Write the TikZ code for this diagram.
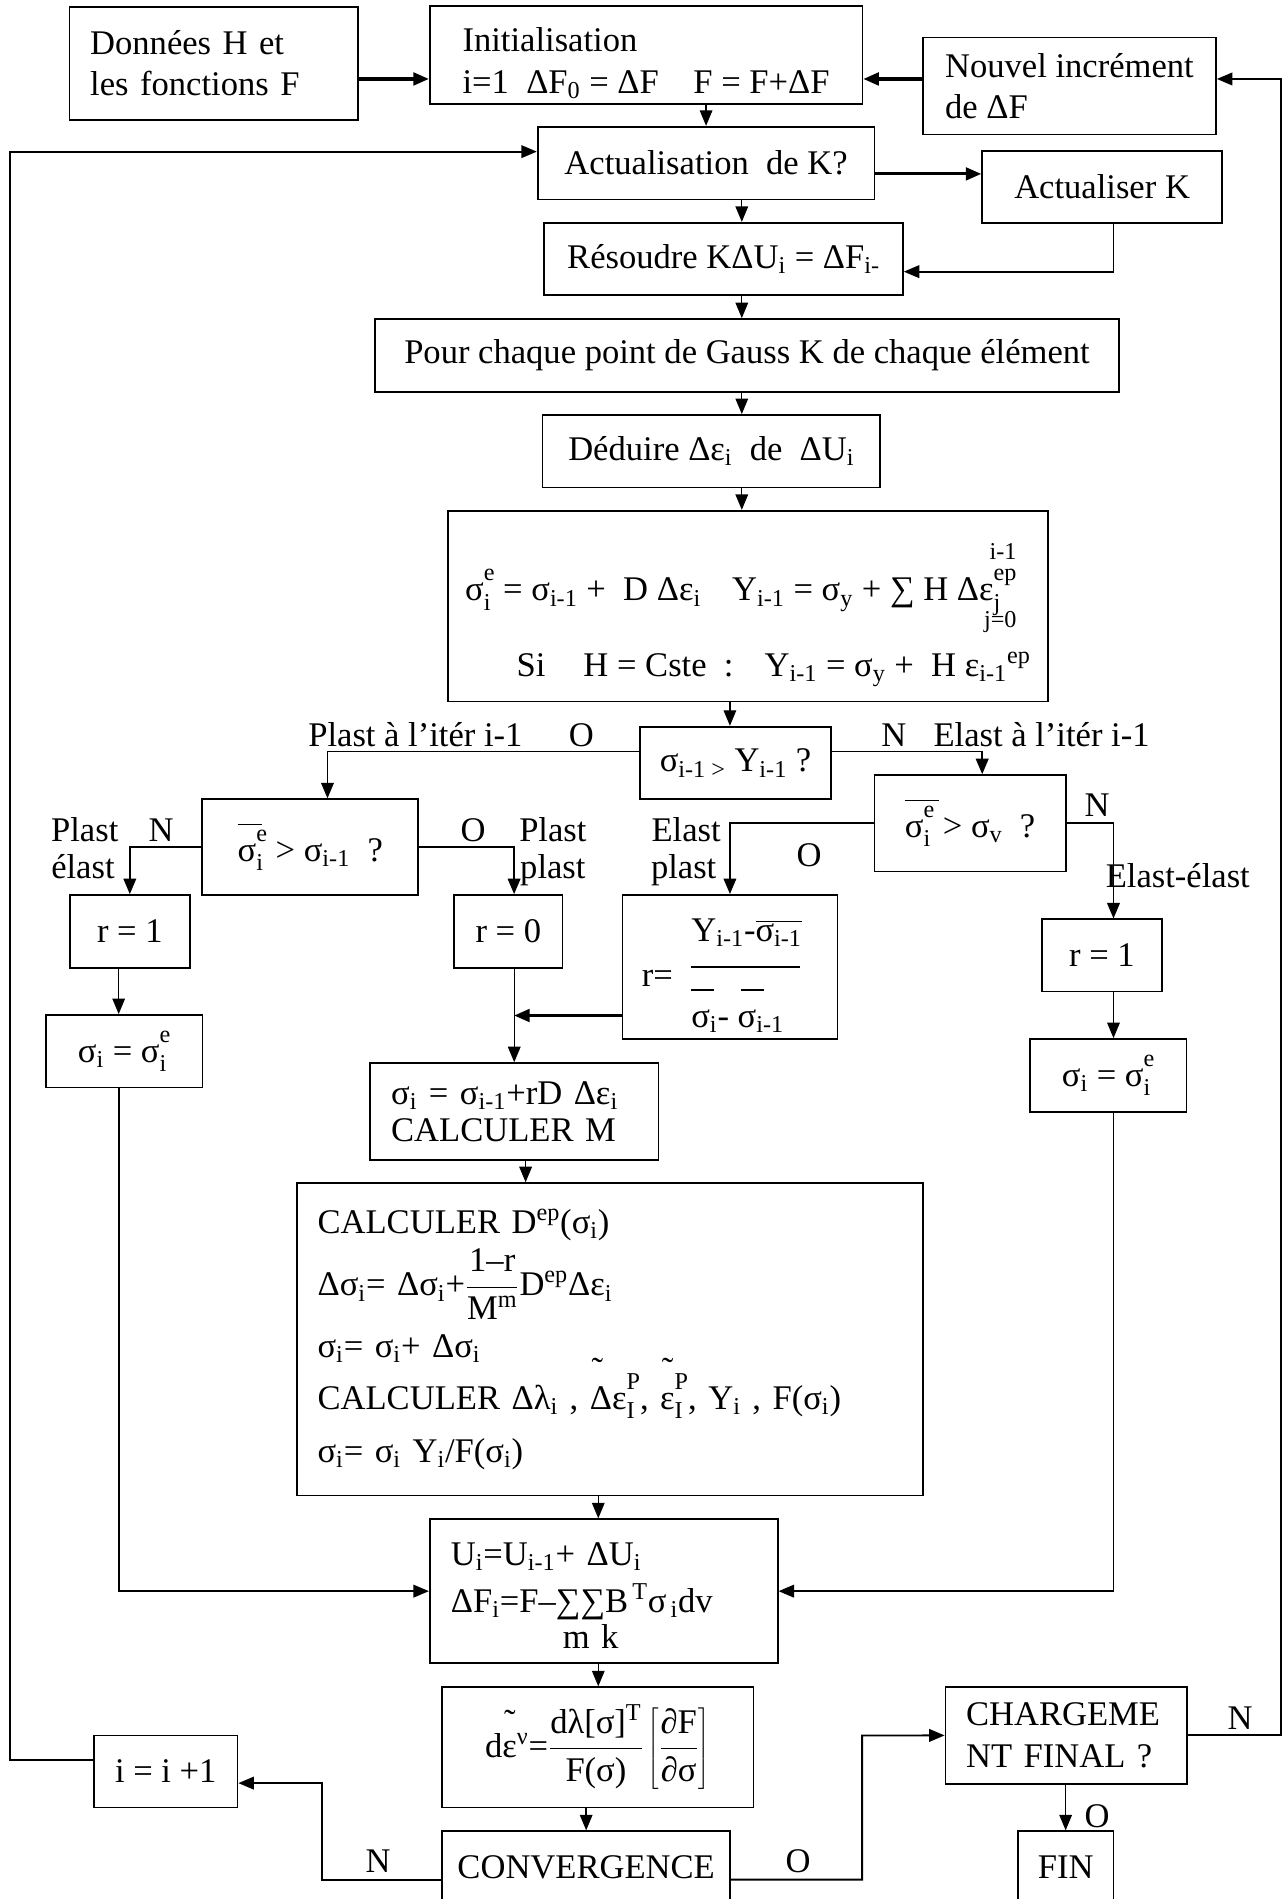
\documentclass[tikz,border=0pt]{standalone}
\usepackage{fontspec}
\setmainfont{Liberation Serif}
\usetikzlibrary{arrows.meta}

\newcommand\fz{\fontsize{20.3}{24.4}\selectfont}
\newcommand\sm{\fontsize{14.2}{14.2}\selectfont}
\newcommand\lo[1]{\textsubscript{#1}}
\newcommand\hi[1]{\textsuperscript{#1}}
% super- and subscript stacked
\newcommand\ud[2]{\begingroup
  \setbox0=\hbox{\raisebox{0.58em}{\sm #1}}%
  \setbox2=\hbox{\raisebox{-0.28em}{\sm #2}}%
  \ifdim\wd0>\wd2 \rlap{\copy2}\copy0 \else \rlap{\copy0}\copy2 \fi
  \endgroup}
% sigma with a high bar
\newcommand\barsig[1]{\rlap{\raisebox{1.05em}{\rule{#1}{0.8pt}}}σ}
% raised small tilde over a letter
\newcommand\til[2]{\rlap{\smash{\raisebox{#1}{\kern0.05em ˜}}}#2}
\newcommand\fr[2]{$\displaystyle\frac{\hbox{#1}}{\hbox{#2}}$}

\begin{document}
\begin{tikzpicture}[x=0.025cm, y=-0.025cm,
    >={Triangle[length=3.2mm,width=2.6mm]},
    box/.style={draw, line width=1pt, font=\fz, inner sep=3pt, align=center},
    lbl/.style={font=\fz, anchor=base, inner sep=0pt},
    arr/.style={->, line width=0.8pt},
    barr/.style={->, line width=1.1pt},
    harr/.style={->, line width=1.8pt}]

\useasboundingbox (0,0) rectangle (1060,1568);

% top row
\node[box, minimum width=5.95cm, minimum height=2.34cm, text width=5.1cm, align=left] (donnees) at (176.5,52.3) {Données H et\\les fonctions F};
\node[box, minimum width=8.93cm, minimum height=2cm, align=left] (init) at (533.5,45.4) {\rule{0pt}{0.83cm}Initialisation\\i=1~ ΔF\lo{0} = ΔF\hspace{1em}F = F+ΔF};
\node[box, minimum width=6.05cm, minimum height=2cm, align=left] (nouvel) at (883,71) {Nouvel incrément\\de ΔF};

% stiffness and solve
\node[box, minimum width=6.95cm, minimum height=1.5cm] (actua) at (583,134.6) {Actualisation~ de K?};
\node[box, minimum width=4.95cm, minimum height=1.48cm] (actK) at (910,154.3) {Actualiser K};
\node[box, minimum width=7.4cm, minimum height=1.49cm] (resoudre) at (597.5,213.7) {Résoudre KΔU\lo{i} = ΔF\lo{i-}};
\node[box, minimum width=15.36cm, minimum height=1.5cm] (gauss) at (616.8,293.4) {Pour chaque point de Gauss K de chaque élément};
\node[box, minimum width=6.97cm, minimum height=1.5cm] (deduire) at (587.4,372.6) {Déduire Δε\lo{i}~ de~ ΔU\lo{i}};
\node[box, minimum width=12.39cm, minimum height=3.94cm, align=left] (trial) at (617.6,500.5)
  {\rule{0pt}{1.55cm}σ\ud{e}{i} = σ\lo{i-1} + ~D Δε\lo{i}\hspace{0.9em}Y\lo{i-1} = σ\lo{y} + ∑ H Δε\ud{ep}{j}\llap{\smash{\raisebox{1.2em}{\sm i-1}}}\llap{\smash{\raisebox{-0.78em}{\sm j=0}}}\\[0.7cm]
   \hspace*{1.06cm}Si\hspace{1.1em}H = Cste~ :\hspace{0.9em}Y\lo{i-1} = σ\lo{y} + ~H ε\lo{i-1}\hi{ep}};

% tests
\node[box, minimum width=3.94cm, minimum height=1.5cm] (test1) at (607.3,630) {σ\lo{i-1 >} Y\lo{i-1} ?};
\node[box, minimum width=4.46cm, minimum height=1.98cm] (testL) at (256.2,699.5) {\barsig{0.7em}\ud{e}{i} > σ\lo{i-1}~~?};
\node[box, minimum width=3.95cm, minimum height=1.99cm] (testR) at (801,679.8) {\barsig{1em}\ud{e}{i} > σ\lo{v}~~?};

% r values
\node[box, minimum width=2.48cm, minimum height=1.5cm] (r1L) at (107.2,769) {r = 1};
\node[box, minimum width=2.24cm, minimum height=1.5cm] (r0) at (419.7,769) {r = 0};
\node[box, minimum width=4.44cm, minimum height=2.98cm, inner sep=0pt, text height=1.89cm, text depth=1.09cm] (rfrac) at (602.7,798.5)
  {r=\hspace{0.38cm}\rlap{\raisebox{0.93cm}{Y\lo{i-1}-$\overline{\hbox{σ\lo{i-1}}}$}}\rlap{\raisebox{0.39cm}{\rule{2.24cm}{0.8pt}}}\rlap{\raisebox{-0.085cm}{\rule{0.475cm}{0.8pt}\hspace{0.55cm}\rule{0.475cm}{0.8pt}}}\raisebox{-0.85cm}{σ\lo{i}- σ\lo{i-1}}\hspace{0.7cm}};
\node[box, minimum width=2.47cm, minimum height=1.49cm] (r1R) at (909.9,788.9) {r = 1};
\node[box, minimum width=3.23cm, minimum height=1.5cm] (sigL) at (102.5,868) {σ\lo{i} = σ\ud{e}{i}};
\node[box, minimum width=3.23cm, minimum height=1.5cm] (sigR) at (915,887.9) {σ\lo{i} = σ\ud{e}{i}};
\node[box, minimum width=5.95cm, minimum height=2cm, text width=5.08cm, align=left] (update) at (424.6,917.8) {σ\lo{i} = σ\lo{i-1}+rD Δε\lo{i}\\[-0.1cm]CALCULER M};
\coordinate (join) at (424.5,838.5);

% plastic correction
\node[box, minimum width=12.91cm, minimum height=6.45cm, text width=12.07cm, align=left] (calc) at (503.7,1105.9)
  {CALCULER D\hi{ep}(σ\lo{i})\\[0.14cm]
   Δσ\lo{i}= Δσ\lo{i}+\fr{1–r}{M\hi{m}}D\hi{ep}Δε\lo{i}\\[0.26cm]
   σ\lo{i}= σ\lo{i}+ Δσ\lo{i}\\[0.22cm]
   CALCULER Δλ\lo{i} , \til{0.8em}{Δ}ε\ud{P}{I}, \til{0.8em}{ε}\ud{P}{I}, Y\lo{i} , F(σ\lo{i})\\[0.24cm]
   σ\lo{i}= σ\lo{i} Y\lo{i}/F(σ\lo{i})};
\node[box, minimum width=7.18cm, minimum height=2.97cm, text width=6.31cm, align=left] (uupd) at (498.5,1313.8)
  {\rule{0pt}{0.75cm}U\lo{i}=U\lo{i-1}+ ΔU\lo{i}\\[0.12cm]
   ΔF\lo{i}=F–∑∑B\hi{\,T}σ\lo{\,i}dv\\[-0.12cm]
   \phantom{ΔF\lo{i}=F–}\hspace{0.2em}m k};
\node[box, minimum width=6.43cm, minimum height=2.48cm] (deps) at (493.5,1442.7)
  {d\til{0.7em}{ε}\hi{ν}=\fr{dλ[σ]\hi{T}}{F(σ)}\hspace{0.1em}$\displaystyle\left[\frac{\hbox{∂F}}{\hbox{∂σ}}\right]$};

% bottom row
\node[box, minimum width=2.96cm, minimum height=1.48cm] (incr) at (136.9,1462.7) {i = i +1};
\node[box, minimum width=5.95cm, minimum height=1.5cm] (conv) at (484,1542) {CONVERGENCE};
\node[box, minimum width=4.99cm, minimum height=2cm, text width=4.14cm, align=left] (charge) at (880.5,1432.9) {CHARGEME\\NT FINAL ?};
\node[box, minimum width=1.98cm, minimum height=1.5cm] (fin) at (879.9,1542) {FIN};

% branch labels
\node[lbl] (lplastit) at (343,616) {Plast à l’itér i-1};
\node[lbl] (lo1) at (480,616) {O};
\node[lbl] (ln1) at (738,616) {N};
\node[lbl] (lelastit) at (860,616) {Elast à l’itér i-1};
\node[lbl] (lplast1) at (70,694.5) {Plast};
\node[lbl] (ln2) at (133,694.5) {N};
\node[lbl] (lelast1) at (68.5,725) {élast};
\node[lbl] (lo2) at (390.7,694.5) {O};
\node[lbl] (lplast2) at (456.5,694.5) {Plast};
\node[lbl] (lplast3) at (456.5,725) {plast};
\node[lbl] (lelast2) at (566.5,694.5) {Elast};
\node[lbl] (lplast4) at (564.5,725) {plast};
\node[lbl] (lo3) at (668,715.5) {O};
\node[lbl] (ln3) at (905.8,674) {N};
\node[lbl] (lelel) at (972.5,733) {Elast-élast};
\node[lbl] (ln4) at (312.3,1546.5) {N};
\node[lbl] (lo4) at (659,1546.5) {O};
\node[lbl] (ln5) at (1024,1428) {N};
\node[lbl] (lo5) at (905.8,1509) {O};

% connectors
\draw[harr] (donnees.east |- 0,65.2) -- (init.west |- 0,65.2);
\draw[harr] (nouvel.west |- 0,65.2) -- (init.east |- 0,65.2);
\draw[barr] (charge.east) -| (1058,65.2) -- (nouvel.east |- 0,65.2);
\draw[arr] (init.south -| actua.north) -- (actua.north);
\draw[barr] (incr.west |- 0,1453) -| (8.1,125.2) -- (actua.west |- 0,125.2);
\draw[harr] (actua.east |- 0,143.6) -- (actK.west |- 0,143.6);
\draw[arr] (actua.south -| 612.5,0) -- (resoudre.north -| 612.5,0);
\draw[barr] (actK.south -| 919.4,0) |- (resoudre.east |- 0,224.3);
\draw[arr] (resoudre.south -| 612.5,0) -- (gauss.north -| 612.5,0);
\draw[arr] (gauss.south -| 612.5,0) -- (deduire.north -| 612.5,0);
\draw[arr] (deduire.south -| 612.5,0) -- (trial.north -| 612.5,0);
\draw[arr] (trial.south -| 602.7,0) -- (test1.north -| 602.7,0);
\draw[barr] (test1.west |- 0,620.5) -| (testL.north -| 270.4,0);
\draw[barr] (test1.east |- 0,620.5) -| (testR.north -| 811,0);
\draw[barr] (testL.west) -| (r1L.north);
\draw[barr] (testL.east) -| (r0.north -| 424.5,0);
\draw[barr] (testR.west) -| (rfrac.north);
\draw[barr] (testR.east) -| (r1R.north -| 919.4,0);
\draw[arr] (r1L.south -| 98,0) -- (sigL.north -| 98,0);
\draw[arr] (r0.south -| update.north) -- (update.north);
\draw[harr] (rfrac.west |- join) -- (join);
\draw[arr] (r1R.south -| 919.4,0) -- (sigR.north -| 919.4,0);
\draw[barr] (sigL.south -| 98,0) |- (uupd.west);
\draw[barr] (sigR.south -| 919.4,0) |- (uupd.east);
\draw[arr] (update.south -| 434,0) -- (calc.north -| 434,0);
\draw[arr] (calc.south -| 494,0) -- (uupd.north -| 494,0);
\draw[arr] (uupd.south -| 494,0) -- (deps.north -| 494,0);
\draw[arr] (deps.south -| conv.north) -- (conv.north);
\draw[barr] (conv.west |- 0,1552) -| (265.7,1472.3) -- (incr.east |- 0,1472.3);
\draw[barr] (conv.east |- 0,1552) -| (711.8,1433) -- (charge.west);
\draw[arr] (charge.south -| fin.north) -- (fin.north);

\end{tikzpicture}
\end{document}
